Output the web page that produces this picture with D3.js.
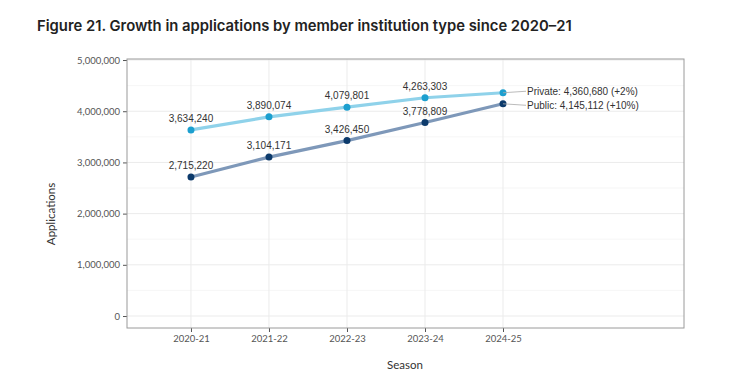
<!DOCTYPE html>
<html><head><meta charset="utf-8">
<script src="https://cdn.jsdelivr.net/npm/d3@7"></script>
<style>body{margin:0;background:#fff}svg{display:block}</style>
</head><body>
<script>
const seasons = ["2020-21","2021-22","2022-23","2023-24","2024-25"];
const privateVals = [3634240, 3890074, 4079801, 4263303, 4360680];
const publicVals = [2715220, 3104171, 3426450, 3778809, 4145112];
const endLabels = ["Private: 4,360,680 (+2%)", "Public: 4,145,112 (+10%)"];
const yTicks = [0, 1000000, 2000000, 3000000, 4000000, 5000000];
const yMinor = [500000, 1500000, 2500000, 3500000, 4500000];

const W = 736, H = 392;
const svg = d3.select("body").append("svg").attr("width", W).attr("height", H);
const L = 127, R = 684, T = 59, B = 328;

const x = d3.scaleLinear().domain([-0.82, 6.32]).range([L, R]);
const y = d3.scaleLinear().domain([-234000, 5020000]).range([B, T]);

svg.append("text").attr("x", 37).attr("y", 31)
  .attr("font-family", "Inter, 'Open Sans', sans-serif").attr("font-weight", 600)
  .attr("font-size", 14.8).attr("fill", "#222")
  .text("Figure 21. Growth in applications by member institution type since 2020\u201321");

const g = svg.append("g");
g.selectAll(".ymin").data(yMinor).join("line")
  .attr("x1", L).attr("x2", R).attr("y1", d => y(d)).attr("y2", d => y(d))
  .attr("stroke", "#f4f4f4").attr("stroke-width", 0.8);
g.selectAll(".ymaj").data(yTicks).join("line")
  .attr("x1", L).attr("x2", R).attr("y1", d => y(d)).attr("y2", d => y(d))
  .attr("stroke", "#ebebeb").attr("stroke-width", 1);
g.selectAll(".xmaj").data(seasons).join("line")
  .attr("x1", (d, i) => x(i)).attr("x2", (d, i) => x(i)).attr("y1", T).attr("y2", B)
  .attr("stroke", "#ebebeb").attr("stroke-width", 1);

const yAxis = d3.axisLeft(y).tickValues(yTicks).tickSize(4).tickPadding(3)
  .tickFormat(d3.format(","));
const ya = svg.append("g").attr("transform", `translate(${L},0)`).call(yAxis);
const xAxis = d3.axisBottom(x).tickValues(d3.range(seasons.length)).tickSize(4).tickPadding(3)
  .tickFormat(i => seasons[i]);
const xa = svg.append("g").attr("transform", `translate(0,${B})`).call(xAxis);
[ya, xa].forEach(a => {
  a.select(".domain").remove();
  a.selectAll(".tick line").attr("stroke", "#555");
  a.selectAll(".tick text").attr("fill", "#555").attr("font-size", 9.5)
    .attr("font-family", "Lato, Inter, sans-serif");
});

svg.append("rect").attr("x", L).attr("y", T).attr("width", R - L).attr("height", B - T)
  .attr("fill", "none").attr("stroke", "#9a9a9a").attr("stroke-width", 1);

svg.append("text").attr("transform", "translate(55,214) rotate(-90)")
  .attr("text-anchor", "middle").attr("font-family", "Lato, Inter, sans-serif")
  .attr("font-size", 11.5).attr("fill", "#333").text("Applications");
svg.append("text").attr("x", 405).attr("y", 369).attr("text-anchor", "middle")
  .attr("font-family", "Lato, Inter, sans-serif")
  .attr("font-size", 11.5).attr("fill", "#333").text("Season");

const series = [
  {vals: privateVals, line: "#8fd2ea", pt: "#1c9fcf", label: endLabels[0], dy: -1.5},
  {vals: publicVals, line: "#7e98b9", pt: "#0c3a6b", label: endLabels[1], dy: 1.5}
];
const lineGen = d3.line().x((d, i) => x(i)).y(d => y(d));
series.forEach(s => {
  svg.append("path").datum(s.vals).attr("d", lineGen)
    .attr("fill", "none").attr("stroke", s.line).attr("stroke-width", 3.2)
    .attr("stroke-linejoin", "round").attr("stroke-linecap", "round");
});
series.forEach(s => {
  svg.selectAll(null).data(s.vals).join("circle")
    .attr("cx", (d, i) => x(i)).attr("cy", d => y(d)).attr("r", 3.5).attr("fill", s.pt);
  const n = s.vals.length;
  svg.selectAll(null).data(s.vals.slice(0, n - 1)).join("text")
    .attr("x", (d, i) => x(i)).attr("y", d => y(d) - 8)
    .attr("text-anchor", "middle").attr("font-family", "'Liberation Sans', Arial, sans-serif")
    .attr("font-size", 10).attr("fill", "#333").text(d => d3.format(",")(d));
  const lx = x(n - 1), ly = y(s.vals[n - 1]);
  svg.append("line").attr("x1", lx).attr("y1", ly).attr("x2", lx + 23).attr("y2", ly + s.dy)
    .attr("stroke", "#aaa").attr("stroke-width", 0.8);
  svg.append("text").attr("x", lx + 24).attr("y", ly + s.dy + 3.5)
    .attr("font-family", "'Liberation Sans', Arial, sans-serif")
    .attr("font-size", 10).attr("fill", "#333").text(s.label);
});
</script>
</body></html>
